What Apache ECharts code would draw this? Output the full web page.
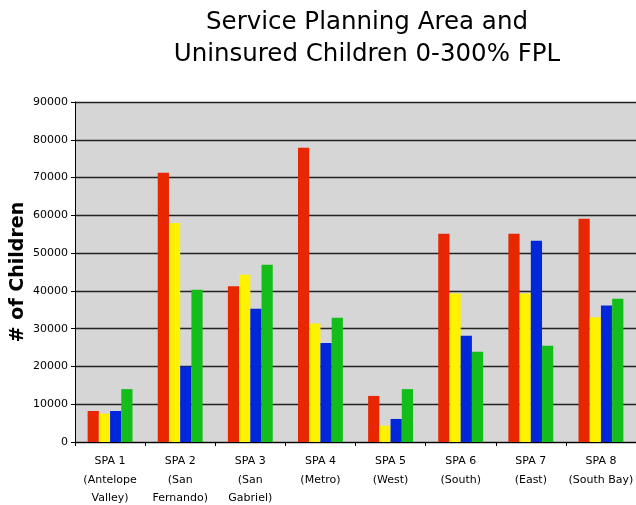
<!DOCTYPE html>
<html><head><meta charset="utf-8">
<script src="https://cdn.jsdelivr.net/npm/echarts@6/dist/echarts.min.js"></script>
<style>html,body{margin:0;padding:0;background:#fff}#c{width:636px;height:505px}</style>
</head><body><div id="c"></div>
<script>
const categories = ['SPA 1\n(Antelope\nValley)','SPA 2\n(San\nFernando)','SPA 3\n(San\nGabriel)','SPA 4\n(Metro)','SPA 5\n(West)','SPA 6\n(South)','SPA 7\n(East)','SPA 8\n(South Bay)'];
const seriesRed    = [8200, 71300, 41200, 77900, 12200, 55100, 55100, 59100];
const seriesYellow = [7500, 58000, 44300, 31400, 4300, 39300, 39300, 33000];
const seriesBlue   = [8200, 20000, 35300, 26200, 6100, 28100, 53300, 36100];
const seriesGreen  = [14000, 40300, 46900, 32900, 14000, 23900, 25500, 37900];
const colors = ['#E82600', '#FFF200', '#0028DA', '#14BE1A'];
const chart = echarts.init(document.getElementById('c'));
const mk = (d, i) => ({type:'bar', data:d, itemStyle:{color:colors[i]}, barGap:'0%', barCategoryGap:'36%', animation:false});
chart.setOption({
  animation:false,
  title:{text:'Service Planning Area and\nUninsured Children 0-300% FPL', left:362, top:2, textAlign:'center',
    textStyle:{fontFamily:'DejaVu Sans', fontWeight:'normal', fontSize:24.5, lineHeight:32, color:'#000'}},
  grid:{left:75, right:0, top:102, bottom:63, show:true, backgroundColor:'#D6D6D6', borderWidth:0, containLabel:false, outerBoundsMode:'none'},
  xAxis:{type:'category', data:categories,
    axisLine:{lineStyle:{color:'#000'}}, axisTick:{show:true, length:4, lineStyle:{color:'#000'}},
    axisLabel:{fontFamily:'DejaVu Sans', fontSize:11, color:'#000', lineHeight:18.5, margin:10, interval:0}},
  yAxis:{type:'value', min:0, max:90000, interval:10000,
    name:'# of Children', nameLocation:'middle', nameGap:47, nameMoveOverlap:false,
    nameTextStyle:{fontFamily:'DejaVu Sans', fontWeight:'bold', fontSize:19, color:'#000'},
    axisLine:{show:true, lineStyle:{color:'#000'}}, axisTick:{show:true, length:4, lineStyle:{color:'#000'}},
    axisLabel:{fontFamily:'DejaVu Sans', fontSize:11, color:'#000', margin:7, formatter:v=>String(v)},
    splitLine:{lineStyle:{color:'#222', width:1.3}}},
  series:[mk(seriesRed,0), mk(seriesYellow,1), mk(seriesBlue,2), mk(seriesGreen,3)]
});
</script></body></html>
